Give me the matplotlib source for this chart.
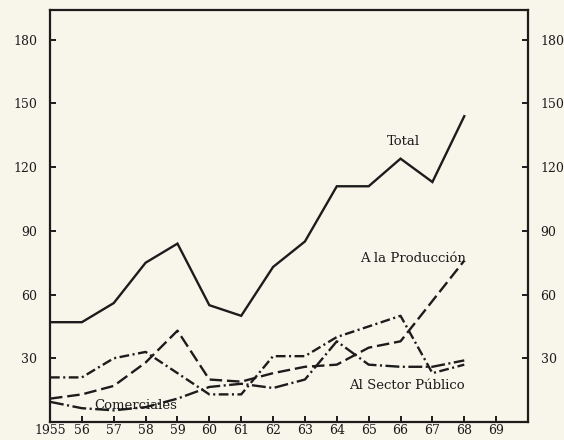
import matplotlib
matplotlib.use("Agg")
import matplotlib.pyplot as plt

plt.rcParams['font.family'] = ['DejaVu Serif']
plt.rcParams['lines.scale_dashes'] = False

years = [1955, 1956, 1957, 1958, 1959, 1960, 1961, 1962, 1963, 1964, 1965, 1966, 1967, 1968]
total = [47, 47, 56, 75, 84, 55, 50, 73, 85, 111, 111, 124, 113, 144]
produccion = [11, 13, 17, 28, 43, 20, 19, 23, 26, 27, 35, 38, 57, 76]
serie_b = [21, 21, 30, 33, 23, 13, 13, 31, 31, 40, 45, 50, 23, 27]
serie_c = [9.5, 6.5, 5.5, 7, 11, 16.5, 18, 16, 20, 38, 27, 26, 26, 29]

xticks = list(range(1955, 1970))
xlabels = ["1955", "56", "57", "58", "59", "60", "61", "62", "63", "64", "65", "66", "67", "68", "69"]
yticks = [30, 60, 90, 120, 150, 180]

bg = '#f8f5ea'
ink = '#1c1c1c'

fig = plt.figure(figsize=(5.64, 4.40), dpi=100, facecolor=bg)
ax = fig.add_axes([50/564, 18/440, 478/564, 412/440], facecolor=bg)

ax.plot(years, total, color=ink, lw=1.7, solid_joinstyle='miter')
ax.plot(years, produccion, color=ink, lw=1.7, linestyle=(0, (9, 3.5)))
ax.plot(years, serie_b, color=ink, lw=1.7, linestyle=(0, (7, 2.5, 1.5, 2.5)))
ax.plot(years, serie_c, color=ink, lw=1.7, linestyle=(0, (10, 2.5, 1.5, 2.5)))

ax.set_xlim(1955, 1970)
ax.set_ylim(0, 194)
ax.set_xticks(xticks)
ax.set_xticklabels(xlabels)
ax.set_yticks(yticks)

for s in ax.spines.values():
    s.set_linewidth(1.6)
    s.set_color(ink)

ax.tick_params(axis='both', direction='in', length=4, width=1.4, colors=ink,
               labelsize=9)
ax.tick_params(axis='x', pad=1.5)
ax.tick_params(axis='y', left=True, right=True, labelleft=True, labelright=True, pad=9)

tx = dict(color=ink, fontsize=9.5, ha='center', va='center')
ax.text(1966.1, 132, "Total", **tx)
ax.text(1966.4, 77, "A la Producción", **tx)
ax.text(1966.2, 17, "Al Sector Público", **tx)
ax.text(1957.7, 8, "Comerciales", **tx)

fig.savefig("out.png", dpi=100, facecolor=bg)
